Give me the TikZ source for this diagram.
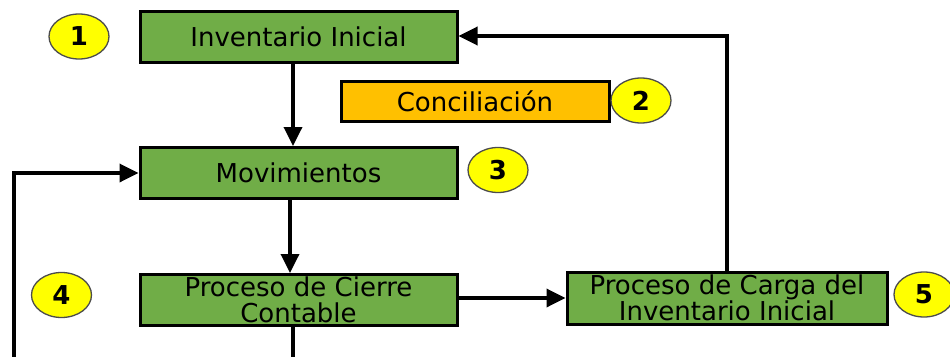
\documentclass[tikz,border=0pt]{standalone}
\usepackage{fontspec}
\setmainfont{DejaVu Sans}
\usetikzlibrary{arrows.meta,shapes.geometric}
\definecolor{boxgreen}{HTML}{70AD47}
\definecolor{boxorange}{HTML}{FFC000}
\definecolor{numyellow}{HTML}{FFFF00}
\tikzset{
  procbox/.style={draw=black,line width=3pt,fill=boxgreen,minimum width=317pt,minimum height=51pt,inner sep=0pt,align=center,font=\fontsize{26}{25.5}\selectfont},
  orangebox/.style={draw=black,line width=3pt,fill=boxorange,minimum width=268pt,minimum height=40pt,inner sep=0pt,font=\fontsize{26}{28}\selectfont},
  numbadge/.style={ellipse,draw=black!70,line width=1.3pt,fill=numyellow,minimum width=60pt,minimum height=45pt,inner sep=0pt,font=\fontsize{26}{28}\selectfont\bfseries},
  flow/.style={line width=3.5pt,-{Triangle[length=19pt,width=18pt]}},
  plainline/.style={line width=3.5pt}
}
\begin{document}
\begin{tikzpicture}[x=1pt,y=-1pt]
\clip (0,0) rectangle (950,356);
\fill[white] (0,0) rectangle (950,356);
\node[procbox] (inv) at (298.5,36.5) {Inventario Inicial};
\node[orangebox] (conc) at (475,101) {Conciliación};
\node[procbox] (mov) at (298.5,173) {Movimientos};
\node[procbox] (cierre) at (298.5,300) {Proceso de Cierre\\Contable};
\node[procbox,minimum width=320pt,minimum height=52pt] (carga) at (727,298) {Proceso de Carga del\\Inventario Inicial};
\node[numbadge] (n1) at (79,36.5) {1};
\node[numbadge] (n2) at (641,100.5) {2};
\node[numbadge] (n3) at (498,170) {3};
\node[numbadge] (n4) at (61.5,295) {4};
\node[numbadge] (n5) at (924,294.5) {5};
\coordinate (loopin) at (14,380);
\coordinate (loopcorner) at (14,173);
\coordinate (downout) at (293,380);
\coordinate (backcorner) at (727,36);
\draw[flow] (inv.south -| 293,0) -- (mov.north -| 293,0);
\draw[flow] (mov.south -| 290,0) -- (cierre.north -| 290,0);
\draw[flow] (cierre.east |- 0,298) -- (carga.west |- 0,298);
\draw[flow] (carga.north) -- (backcorner) -- (inv.east |- backcorner);
\draw[flow] (loopin) -- (loopcorner) -- (mov.west |- loopcorner);
\draw[plainline] (cierre.south -| downout) -- (downout);
\end{tikzpicture}
\end{document}
